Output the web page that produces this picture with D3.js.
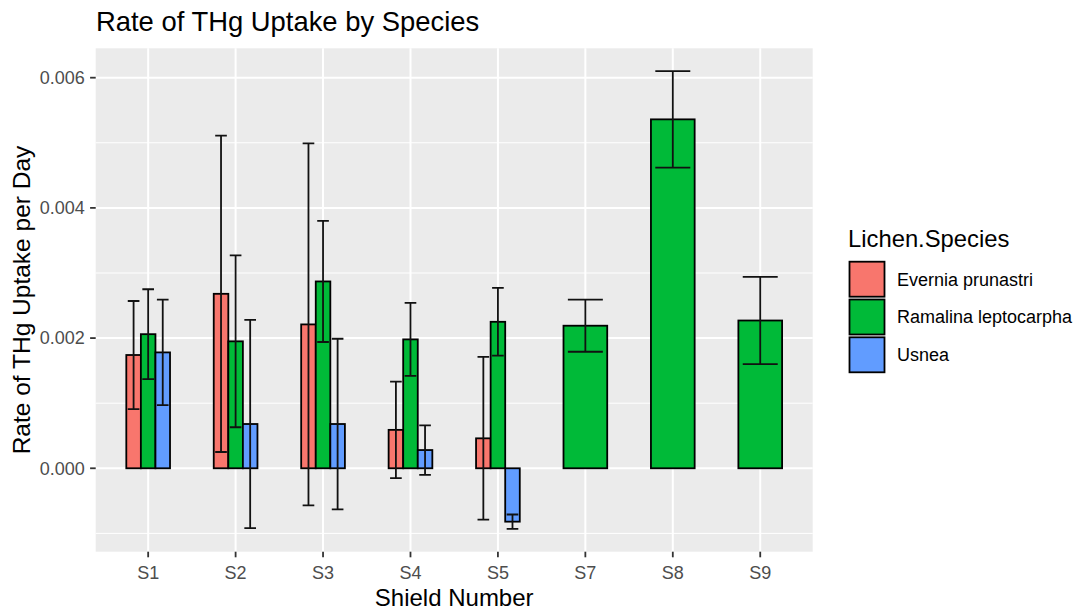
<!DOCTYPE html>
<html>
<head>
<meta charset="utf-8">
<script src="https://cdn.jsdelivr.net/npm/d3@7"></script>
<style>
  html, body { margin: 0; padding: 0; background: #fff; }
  svg { display: block; font-family: "Liberation Sans", Arial, sans-serif; }
</style>
</head>
<body>
<svg id="chart" width="1082" height="612"></svg>
<script>
// Shields and lichen species
const shields = ["S1", "S2", "S3", "S4", "S5", "S7", "S8", "S9"];
const species = ["Evernia prunastri", "Ramalina leptocarpha", "Usnea"];
const speciesColors = ["#F8766D", "#00BA38", "#619CFF"];

// Mean rate of THg uptake per day, and its standard error (null = not sampled)
const everniaMean  = [0.00174, 0.00268, 0.00221, 0.00059, 0.00046, null, null, null];
const everniaSE    = [0.00083, 0.00243, 0.00278, 0.00074, 0.00125, null, null, null];
const ramalinaMean = [0.00206, 0.00195, 0.00287, 0.00198, 0.00225, 0.00219, 0.00536, 0.00227];
const ramalinaSE   = [0.00069, 0.00132, 0.00093, 0.00056, 0.00052, 0.00040, 0.00074, 0.00067];
const usneaMean    = [0.00178, 0.00068, 0.00068, 0.00028, -0.00082, null, null, null];
const usneaSE      = [0.00081, 0.00160, 0.00131, 0.00038, 0.00011, null, null, null];

const yMajor = [0, 0.002, 0.004, 0.006];
const yMinor = [-0.001, 0.001, 0.003, 0.005];

// Long-format rows
const means = [everniaMean, ramalinaMean, usneaMean];
const ses = [everniaSE, ramalinaSE, usneaSE];
const rows = [];
shields.forEach((s, i) => {
  species.forEach((sp, j) => {
    if (means[j][i] !== null) rows.push({ shield: s, species: sp, idx: j, mean: means[j][i], se: ses[j][i] });
  });
});

const svg = d3.select("#chart");
const panel = { left: 95.7, right: 812.7, top: 48.3, bottom: 551.7 };

// Scales
const x = d3.scalePoint().domain(shields).range([panel.left, panel.right]).padding(0.6);
const step = x.step();
const dodgeWidth = 0.5 * step;
const errWidthFrac = 0.8;

const lo = d3.min(rows, d => Math.min(0, d.mean - d.se));
const hi = d3.max(rows, d => Math.max(0, d.mean + d.se));
const pad = (hi - lo) * 0.05;
const y = d3.scaleLinear().domain([lo - pad, hi + pad]).range([panel.bottom, panel.top]);

const color = d3.scaleOrdinal().domain(species).range(speciesColors);

// Panel background and grid
svg.append("rect").attr("width", 1082).attr("height", 612).attr("fill", "#fff");
svg.append("rect")
  .attr("x", panel.left).attr("y", panel.top)
  .attr("width", panel.right - panel.left).attr("height", panel.bottom - panel.top)
  .attr("fill", "#EBEBEB");

const grid = svg.append("g");
grid.selectAll("line.minor").data(yMinor).join("line")
  .attr("x1", panel.left).attr("x2", panel.right)
  .attr("y1", d => y(d)).attr("y2", d => y(d))
  .attr("stroke", "#fff").attr("stroke-width", 1);
grid.selectAll("line.majory").data(yMajor).join("line")
  .attr("x1", panel.left).attr("x2", panel.right)
  .attr("y1", d => y(d)).attr("y2", d => y(d))
  .attr("stroke", "#fff").attr("stroke-width", 2);
grid.selectAll("line.majorx").data(shields).join("line")
  .attr("x1", d => x(d)).attr("x2", d => x(d))
  .attr("y1", panel.top).attr("y2", panel.bottom)
  .attr("stroke", "#fff").attr("stroke-width", 2);

// Dodged position within each shield group
function inner(shield) {
  const present = rows.filter(r => r.shield === shield).map(r => r.species);
  return d3.scaleBand().domain(present).range([-dodgeWidth / 2, dodgeWidth / 2]).padding(0);
}
const innerScales = {};
shields.forEach(s => innerScales[s] = inner(s));

// Bars
svg.append("g").selectAll("rect").data(rows).join("rect")
  .attr("x", d => x(d.shield) + innerScales[d.shield](d.species))
  .attr("width", d => innerScales[d.shield].bandwidth())
  .attr("y", d => y(Math.max(0, d.mean)))
  .attr("height", d => Math.abs(y(d.mean) - y(0)))
  .attr("fill", d => color(d.species))
  .attr("stroke", "#000").attr("stroke-width", 1.8);

// Error bars
const eb = svg.append("g").attr("stroke", "#111").attr("stroke-width", 1.8).attr("fill", "none");
rows.forEach(d => {
  const sc = innerScales[d.shield];
  const cx = x(d.shield) + sc(d.species) + sc.bandwidth() / 2;
  const hw = sc.bandwidth() * errWidthFrac / 2;
  const yt = y(d.mean + d.se), yb = y(d.mean - d.se);
  eb.append("path").attr("d",
    `M${cx - hw},${yt}H${cx + hw}M${cx},${yt}V${yb}M${cx - hw},${yb}H${cx + hw}`);
});

// Y axis
const yAxis = svg.append("g");
yAxis.selectAll("line").data(yMajor).join("line")
  .attr("x1", panel.left - 5.6).attr("x2", panel.left)
  .attr("y1", d => y(d)).attr("y2", d => y(d))
  .attr("stroke", "#333").attr("stroke-width", 1.8);
yAxis.selectAll("text").data(yMajor).join("text")
  .attr("x", panel.left - 11).attr("y", d => y(d) + 6.4)
  .attr("text-anchor", "end").attr("font-size", 18).attr("fill", "#4D4D4D")
  .text(d => d3.format(".3f")(d));

// X axis
const xAxis = svg.append("g");
xAxis.selectAll("line").data(shields).join("line")
  .attr("x1", d => x(d)).attr("x2", d => x(d))
  .attr("y1", panel.bottom).attr("y2", panel.bottom + 5.6)
  .attr("stroke", "#333").attr("stroke-width", 1.8);
xAxis.selectAll("text").data(shields).join("text")
  .attr("x", d => x(d)).attr("y", 578.5)
  .attr("text-anchor", "middle").attr("font-size", 18).attr("fill", "#4D4D4D")
  .text(d => d);

// Titles
svg.append("text").attr("x", 96).attr("y", 31)
  .attr("font-size", 27.4).attr("fill", "#000")
  .text("Rate of THg Uptake by Species");
svg.append("text").attr("x", (panel.left + panel.right) / 2).attr("y", 606)
  .attr("text-anchor", "middle").attr("font-size", 24).attr("fill", "#000")
  .text("Shield Number");
svg.append("text")
  .attr("transform", `translate(30,${(panel.top + panel.bottom) / 2}) rotate(-90)`)
  .attr("text-anchor", "middle").attr("font-size", 24.5).attr("fill", "#000")
  .text("Rate of THg Uptake per Day");

// Legend
const legend = svg.append("g");
legend.append("text").attr("x", 848).attr("y", 246.7)
  .attr("font-size", 23.8).attr("fill", "#000").text("Lichen.Species");
const keyTop = 261.7, keyStep = 37.8, keySize = 35;
species.forEach((sp, i) => {
  const ky = keyTop + i * keyStep;
  legend.append("rect")
    .attr("x", 849.5).attr("y", ky).attr("width", keySize).attr("height", keySize)
    .attr("fill", color(sp)).attr("stroke", "#000").attr("stroke-width", 1.8);
  legend.append("text")
    .attr("x", 897).attr("y", ky + keySize / 2 + 6.4)
    .attr("font-size", 18).attr("fill", "#000").text(sp);
});
</script>
</body>
</html>
